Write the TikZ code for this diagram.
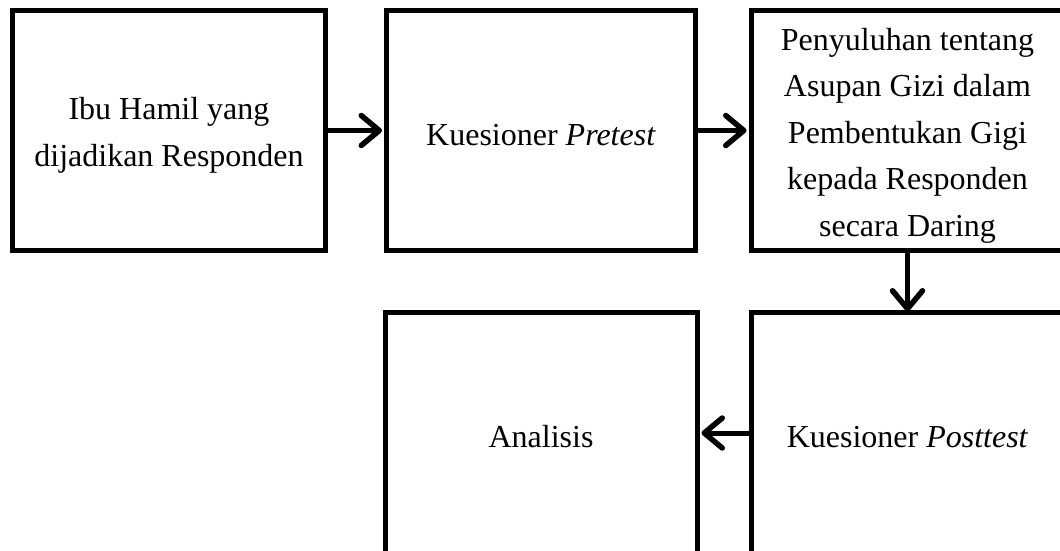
\documentclass[tikz,border=0pt]{standalone}
\usepackage{fontspec}
\setmainfont{Liberation Serif}
\usetikzlibrary{arrows.meta}
\tikzset{
  box/.style={draw=black, line width=5pt, minimum width=311pt, minimum height=240pt,
    inner sep=0pt},
  txt/.style={align=center, inner sep=0pt, font=\fontsize{32}{46.5}\selectfont},
  flow/.style={line width=5pt, line cap=round,
    -{Straight Barb[length=18pt,width=30pt,line width=5.5pt,round]}}
}
\begin{document}
\begin{tikzpicture}[x=1pt,y=-1pt]
\useasboundingbox (0,0) rectangle (1060,551);
\clip (0,0) rectangle (1060,551);
\fill[white] (0,0) rectangle (1060,551);
\node[box, minimum width=313pt] (b1) at (169,130.5) {};
\node[box, minimum width=309pt] (b2) at (541,130.5) {};
\node[box, minimum width=313pt] (b3) at (907.5,130.5) {};
\node[box, minimum width=312pt, minimum height=242pt] (b4) at (541,433) {};
\node[box, minimum width=313pt, minimum height=242pt] (b5) at (907.5,433) {};
\node[txt] (t1) at ([yshift=-5pt]b1.center) {Ibu Hamil yang\\dijadikan Responden};
\node[txt] (t2) at ([yshift=-5pt]b2.center) {Kuesioner \textit{Pretest}};
\node[txt] (t3) at ([yshift=-5pt]b3.center) {Penyuluhan tentang\\Asupan Gizi dalam\\Pembentukan Gigi\\kepada Responden\\secara Daring};
\node[txt] (t4) at ([yshift=-4pt]b4.center) {Analisis};
\node[txt] (t5) at ([yshift=-4pt]b5.center) {Kuesioner \textit{Posttest}};
\draw[flow] (b1.east) -- ([xshift=-2pt]b2.west);
\draw[flow] (b2.east) -- ([xshift=-2pt]b3.west);
\draw[flow] (b3.south) -- ([yshift=-2pt]b5.north);
\draw[flow] (b5.west) -- ([xshift=2pt]b4.east);
\end{tikzpicture}
\end{document}
